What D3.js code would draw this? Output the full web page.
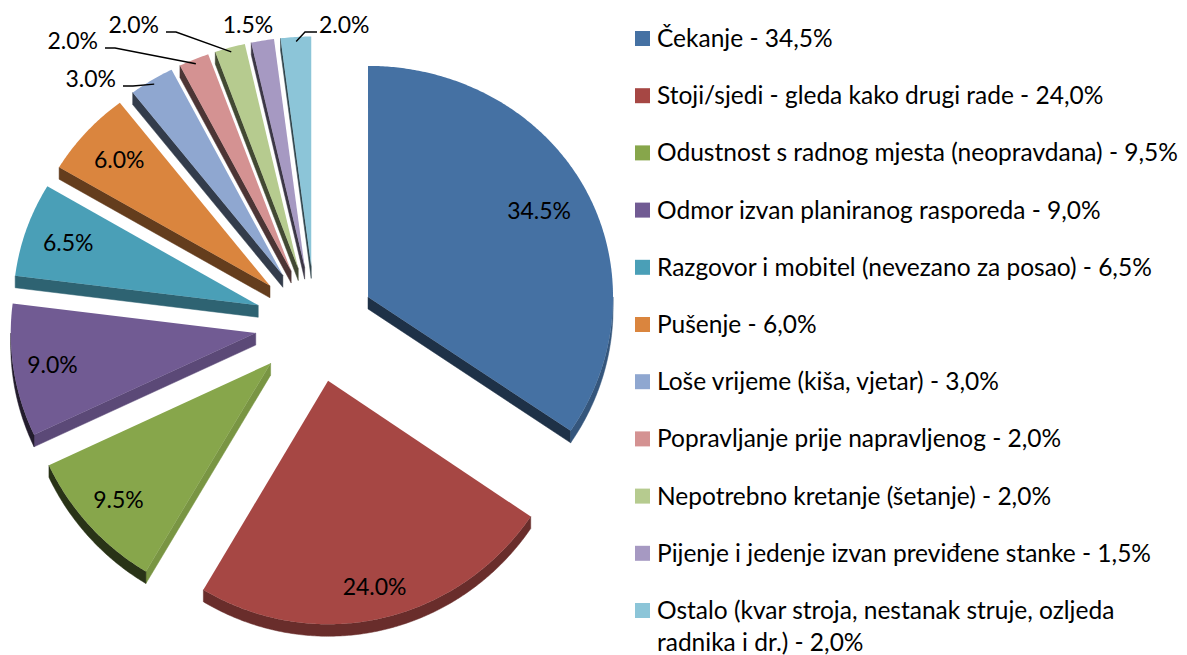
<!DOCTYPE html>
<html>
<head>
<meta charset="utf-8">
<script src="https://cdn.jsdelivr.net/npm/d3@7"></script>
<style>
  html, body { margin: 0; padding: 0; background: #fff; }
  svg { display: block; font-family: Lato, "Open Sans", "DejaVu Sans", sans-serif; }
</style>
</head>
<body>
<svg id="chart" width="1187" height="655"></svg>
<script>
// Categories of non-productive time and their shares (%)
const categories = [
  "Čekanje",
  "Stoji/sjedi - gleda kako drugi rade",
  "Odustnost s radnog mjesta (neopravdana)",
  "Odmor izvan planiranog rasporeda",
  "Razgovor i mobitel (nevezano za posao)",
  "Pušenje",
  "Loše vrijeme (kiša, vjetar)",
  "Popravljanje prije napravljenog",
  "Nepotrebno kretanje (šetanje)",
  "Pijenje i jedenje izvan previđene stanke",
  "Ostalo (kvar stroja, nestanak struje, ozljeda\nradnika i dr.)"
];
const shares = [34.5, 24.0, 9.5, 9.0, 6.5, 6.0, 3.0, 2.0, 2.0, 1.5, 2.0];

const sliceColors = [
  "#4571a3", "#a64744", "#87a64b", "#715b93", "#4a9fb7", "#da853e",
  "#8fa7d0", "#d49292", "#b6cb8f", "#a699c2", "#8cc5d8"
];

// ---- layout ----
const cx = 315, cy = 324;      // pie centre on screen
const R = 245;                 // pie radius
const explode = 60;            // distance each slice is pulled out
const depth = 12;              // visible thickness of the pie
const tiltA = 0.966, tiltB = 0.000076; // vertical foreshortening (slight perspective)

// plane coordinates (u to the right, v away from viewer) -> screen
const project = (u, v) => [cx + u, cy - tiltA * v + tiltB * v * v];

// label radius (fraction of R) for inside labels, with per-slice tweaks
const insideLabelR = 0.82;
const insideLabelTweak = { 0: { r: 0.79 }, 1: { r: 0.87 }, 2: { r: 0.84 }, 3: { r: 0.84 } };
// outside labels: baseline anchor and text anchor
const outsideLabels = {
  6:  { x: 116, y: 87, anchor: "end" },
  7:  { x: 98,  y: 49, anchor: "end" },
  8:  { x: 159, y: 33, anchor: "end" },
  9:  { x: 248, y: 33, anchor: "middle", leader: false },
  10: { x: 319, y: 33, anchor: "start" }
};

const svg = d3.select("#chart");
const deg = Math.PI / 180;

const arcs = d3.pie().sort(null).value(d => d)(shares);

const lineGen = d3.line();

function shade(color, normalAngleDeg, extra = 1) {
  let b = 0.5 + 0.4 * Math.cos((normalAngleDeg - 115) * deg);
  b = Math.max(0.36, Math.min(0.95, b)) * extra;
  return d3.interpolateRgb("#000", color)(b);
}

const slices = arcs.map((a, i) => {
  const mid = (a.startAngle + a.endAngle) / 2;
  const ou = explode * Math.sin(mid), ov = explode * Math.cos(mid);
  const pt = (t, r) => project(ou + r * Math.sin(t), ov + r * Math.cos(t));
  return { a, i, mid, pt, apex: pt(0, 0) };
});

// draw back slices first
const order = slices.slice().sort((p, q) => p.apex[1] - q.apex[1]);

const pieG = svg.append("g");
const down = p => [p[0], p[1] + depth];

order.forEach(s => {
  const { a, i, pt, apex } = s;
  const g = pieG.append("g");
  const col = sliceColors[i];

  const arcPoints = (t0, t1) => {
    const n = Math.max(2, Math.ceil((t1 - t0) / (0.5 * deg)));
    return d3.range(n + 1).map(k => pt(t0 + (t1 - t0) * k / n, R));
  };

  // radial side faces
  [[a.startAngle, -90], [a.endAngle, 90]].forEach(([t, side]) => {
    const nAng = t / deg + side;
    if (Math.cos(nAng * deg) < -0.02) {
      const p1 = pt(t, R);
      g.append("path")
        .attr("d", lineGen([apex, p1, down(p1), down(apex)]) + "Z")
        .attr("fill", shade(col, nAng))
        .attr("stroke", shade(col, nAng)).attr("stroke-width", 0.5);
    }
  });

  // outer curved face (only the part turned towards the viewer)
  const t0 = Math.max(a.startAngle, 90 * deg), t1 = Math.min(a.endAngle, 270 * deg);
  if (t1 > t0) {
    const top = arcPoints(t0, t1);
    const bottom = top.map(down).reverse();
    const midAng = (t0 + t1) / 2 / deg;
    g.append("path")
      .attr("d", lineGen(top.concat(bottom)) + "Z")
      .attr("fill", shade(col, midAng, 0.85))
      .attr("stroke", shade(col, midAng, 0.85)).attr("stroke-width", 0.5);
  }

  // top face
  g.append("path")
    .attr("d", lineGen([apex].concat(arcPoints(a.startAngle, a.endAngle))) + "Z")
    .attr("fill", col);
});

// ---- data labels ----
const fmtDot = v => v.toFixed(1) + "%";
const labelG = svg.append("g").attr("font-size", 23).attr("fill", "#000");

slices.forEach(s => {
  const { i, mid, pt } = s;
  const ol = outsideLabels[i];
  if (ol) {
    labelG.append("text")
      .attr("x", ol.x).attr("y", ol.y)
      .attr("text-anchor", ol.anchor)
      .text(fmtDot(shares[i]));
    if (ol.leader !== false) {
      const anchorPt = pt(mid, R * 0.98);
      const ly = ol.y - 1;
      const dir = ol.anchor === "end" ? 1 : -1;
      const startX = ol.x + dir * (ol.anchor === "end" ? 7 : 2);
      const elbowX = ol.x + dir * (ol.anchor === "end" ? 17 : 14);
      labelG.append("path")
        .attr("d", lineGen([[startX, ly], [elbowX, ly], anchorPt]))
        .attr("fill", "none").attr("stroke", "#000").attr("stroke-width", 1.4);
    }
  } else {
    const tw = insideLabelTweak[i] || {};
    const p = pt(mid + (tw.da || 0) * deg, R * (tw.r || insideLabelR));
    labelG.append("text")
      .attr("x", p[0]).attr("y", p[1])
      .attr("dy", "0.36em")
      .attr("text-anchor", "middle")
      .text(fmtDot(shares[i]));
  }
});

// ---- legend ----
const fmtComma = v => v.toFixed(1).replace(".", ",") + "%";
const legendX = 635, legendY0 = 38.5, legendStep = 57.2, sw = 15;
const legendG = svg.append("g").attr("font-size", 24.5).attr("fill", "#000");

categories.forEach((c, i) => {
  const y = legendY0 + i * legendStep;
  legendG.append("rect")
    .attr("x", legendX).attr("y", y - sw / 2)
    .attr("width", sw).attr("height", sw)
    .attr("fill", sliceColors[i]);
  const lines = (c + " - " + fmtComma(shares[i])).split("\n");
  const t = legendG.append("text").attr("x", legendX + 22).attr("y", y + 8.5);
  lines.forEach((ln, k) => {
    t.append("tspan").attr("x", legendX + 22).attr("dy", k === 0 ? 0 : 32).text(ln);
  });
});
</script>
</body>
</html>
